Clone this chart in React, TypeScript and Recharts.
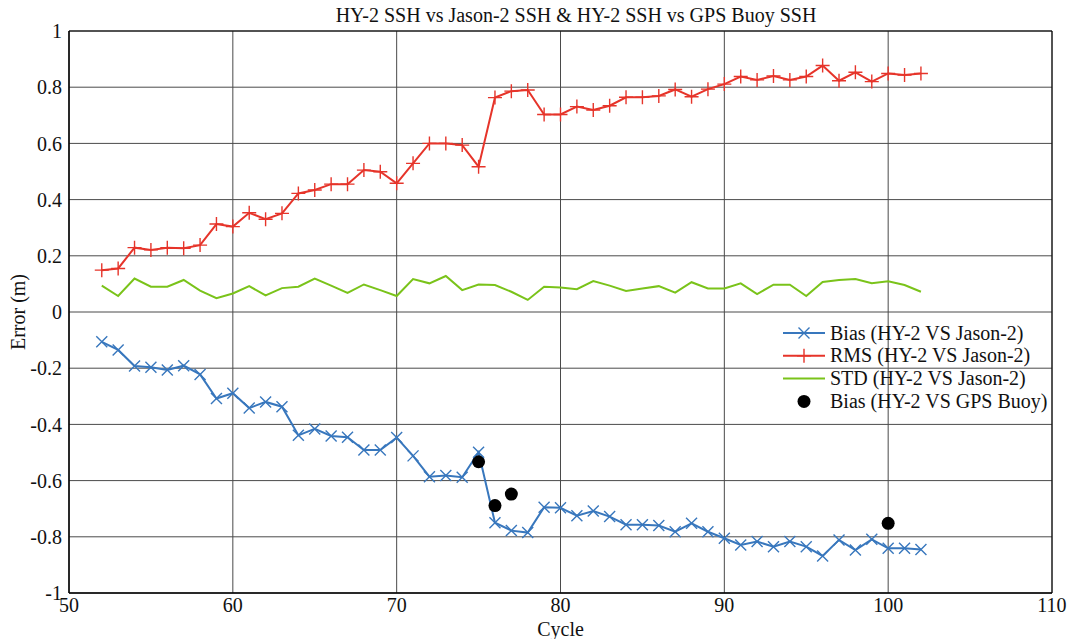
import React from 'react';
import {
  ComposedChart,
  Line,
  Scatter,
  XAxis,
  YAxis,
  CartesianGrid,
  Legend,
  ReferenceArea,
} from 'recharts';

const cycles = [
  52, 53, 54, 55, 56, 57, 58, 59, 60, 61, 62, 63, 64, 65, 66, 67, 68, 69, 70, 71,
  72, 73, 74, 75, 76, 77, 78, 79, 80, 81, 82, 83, 84, 85, 86, 87, 88, 89, 90, 91,
  92, 93, 94, 95, 96, 97, 98, 99, 100, 101, 102,
];

const biasJason = [
  -0.106, -0.135, -0.192, -0.197, -0.206, -0.191, -0.222, -0.308, -0.289, -0.342,
  -0.32, -0.337, -0.439, -0.416, -0.441, -0.446, -0.491, -0.491, -0.447, -0.512,
  -0.586, -0.582, -0.588, -0.499, -0.75, -0.778, -0.785, -0.695, -0.697, -0.725,
  -0.708, -0.728, -0.757, -0.757, -0.76, -0.782, -0.752, -0.782, -0.805, -0.829,
  -0.817, -0.835, -0.817, -0.835, -0.868, -0.811, -0.847, -0.809, -0.841, -0.841,
  -0.845,
];

const rmsJason = [
  0.149, 0.155, 0.229, 0.221, 0.229, 0.227, 0.238, 0.313, 0.304, 0.353, 0.33,
  0.351, 0.422, 0.434, 0.455, 0.455, 0.505, 0.499, 0.458, 0.529, 0.6, 0.6, 0.594,
  0.517, 0.763, 0.786, 0.79, 0.703, 0.703, 0.731, 0.719, 0.734, 0.764, 0.764,
  0.769, 0.792, 0.766, 0.793, 0.811, 0.838, 0.826, 0.84, 0.826, 0.838, 0.877,
  0.823, 0.853, 0.82, 0.849, 0.843, 0.849,
];

const stdJason = [
  0.094, 0.057, 0.119, 0.09, 0.09, 0.114, 0.076, 0.049, 0.066, 0.092, 0.059, 0.085,
  0.09, 0.119, 0.094, 0.068, 0.098, 0.078, 0.057, 0.117, 0.102, 0.128, 0.078,
  0.098, 0.096, 0.072, 0.043, 0.09, 0.087, 0.081, 0.11, 0.094, 0.075, 0.084,
  0.092, 0.069, 0.106, 0.084, 0.084, 0.102, 0.064, 0.097, 0.097, 0.057, 0.107,
  0.114, 0.117, 0.102, 0.109, 0.096, 0.072,
];

const buoyCycles = [75, 76, 77, 100];
const buoyBias = [-0.533, -0.689, -0.648, -0.752];

const xTicks = [50, 60, 70, 80, 90, 100, 110];
const yTicks = [-1, -0.8, -0.6, -0.4, -0.2, 0, 0.2, 0.4, 0.6, 0.8, 1];

const seriesNames = [
  'Bias (HY-2 VS Jason-2)',
  'RMS (HY-2 VS Jason-2)',
  'STD (HY-2 VS Jason-2)',
  'Bias (HY-2 VS GPS Buoy)',
];

const BLUE = '#3877bd';
const RED = '#e6342a';
const GREEN = '#7ac31a';
const FONT = '"Liberation Serif", "Times New Roman", serif';

const data = cycles.map((c, i) => ({
  cycle: c,
  bias: biasJason[i],
  rms: rmsJason[i],
  std: stdJason[i],
}));

const buoyData = buoyCycles.map((c, i) => ({ cycle: c, buoy: buoyBias[i] }));

const XDot = (props: any) => {
  const { cx, cy, index } = props;
  if (cx == null || cy == null) return <g key={`x${index}`} />;
  const s = 5.5;
  return (
    <path
      key={`x${index}`}
      d={`M${cx - s},${cy - s}L${cx + s},${cy + s}M${cx - s},${cy + s}L${cx + s},${cy - s}`}
      stroke={BLUE}
      strokeWidth={1.4}
      fill="none"
    />
  );
};

const PlusDot = (props: any) => {
  const { cx, cy, index } = props;
  if (cx == null || cy == null) return <g key={`p${index}`} />;
  const s = 7;
  return (
    <path
      key={`p${index}`}
      d={`M${cx - s},${cy}L${cx + s},${cy}M${cx},${cy - s}L${cx},${cy + s}`}
      stroke={RED}
      strokeWidth={1.4}
      fill="none"
    />
  );
};

const BuoyShape = (props: any) => {
  const { cx, cy } = props;
  return <circle cx={cx} cy={cy} r={6.5} fill="#000" />;
};

const LegendContent = () => {
  const rowH = 22.8;
  const y0 = 12;
  return (
    <svg width={285} height={96} style={{ overflow: 'visible', display: 'block' }}>
      {seriesNames.map((name, i) => {
        const cy = y0 + i * rowH;
        let sym: React.ReactNode = null;
        if (i === 0) {
          sym = (
            <g>
              <line x1={3} x2={45} y1={cy} y2={cy} stroke={BLUE} strokeWidth={2} />
              <path
                d={`M${24 - 5.5},${cy - 5.5}L${24 + 5.5},${cy + 5.5}M${24 - 5.5},${cy + 5.5}L${24 + 5.5},${cy - 5.5}`}
                stroke={BLUE}
                strokeWidth={1.4}
              />
            </g>
          );
        } else if (i === 1) {
          sym = (
            <g>
              <line x1={3} x2={45} y1={cy} y2={cy} stroke={RED} strokeWidth={2} />
              <path
                d={`M${24 - 7},${cy}L${24 + 7},${cy}M24,${cy - 7}L24,${cy + 7}`}
                stroke={RED}
                strokeWidth={1.4}
              />
            </g>
          );
        } else if (i === 2) {
          sym = <line x1={3} x2={45} y1={cy} y2={cy} stroke={GREEN} strokeWidth={2} />;
        } else {
          sym = <circle cx={24} cy={cy} r={6.5} fill="#000" />;
        }
        return (
          <g key={name}>
            {sym}
            <text x={50} y={cy + 6.5} fontFamily={FONT} fontSize={20} fill="#111">
              {name}
            </text>
          </g>
        );
      })}
    </svg>
  );
};

export default function App() {
  return (
    <div
      style={{
        position: 'absolute',
        left: 0,
        top: 0,
        width: 1068,
        height: 639,
        background: '#fff',
        fontFamily: FONT,
      }}
    >
      <div
        style={{
          position: 'absolute',
          left: 276,
          width: 600,
          top: 5,
          textAlign: 'center',
          fontSize: 20,
          lineHeight: '20px',
          color: '#111',
          fontFamily: FONT,
          whiteSpace: 'nowrap',
        }}
      >
        HY-2 SSH vs Jason-2 SSH &amp; HY-2 SSH vs GPS Buoy SSH
      </div>
      <div
        style={{
          position: 'absolute',
          left: 18,
          top: 312,
          transform: 'translate(-50%, -50%) rotate(-90deg)',
          fontSize: 20,
          lineHeight: '20px',
          color: '#111',
          fontFamily: FONT,
          whiteSpace: 'nowrap',
        }}
      >
        Error (m)
      </div>
      <ComposedChart
        width={1068}
        height={639}
        data={data}
        margin={{ top: 31, right: 16, bottom: 0, left: 0 }}
      >
        <CartesianGrid stroke="#4a4a4a" strokeWidth={1} />
        <XAxis
          dataKey="cycle"
          type="number"
          domain={[50, 110]}
          ticks={xTicks}
          interval={0}
          height={46}
          tickSize={0}
          tickMargin={5}
          axisLine={{ stroke: '#000' }}
          tick={{ fill: '#111', fontSize: 20, fontFamily: FONT }}
          label={{
            value: 'Cycle',
            position: 'insideBottom',
            offset: 3,
            fill: '#111',
            fontSize: 20,
            fontFamily: FONT,
          }}
        />
        <YAxis
          type="number"
          domain={[-1, 1]}
          ticks={yTicks}
          interval={0}
          width={69}
          tickSize={0}
          tickMargin={7}
          axisLine={{ stroke: '#000' }}
          tickFormatter={(v: number) => String(v)}
          tick={{ fill: '#111', fontSize: 20, fontFamily: FONT }}
        />
        <ReferenceArea
          x1={50}
          x2={110}
          y1={-1}
          y2={1}
          fill="none"
          fillOpacity={0}
          stroke="#000"
          strokeWidth={1}
          ifOverflow="visible"
        />
        <Line
          dataKey="std"
          name={seriesNames[2]}
          stroke={GREEN}
          strokeWidth={2}
          dot={false}
          activeDot={false}
          isAnimationActive={false}
          type="linear"
        />
        <Line
          dataKey="rms"
          name={seriesNames[1]}
          stroke={RED}
          strokeWidth={2}
          dot={PlusDot}
          activeDot={false}
          isAnimationActive={false}
          type="linear"
        />
        <Line
          dataKey="bias"
          name={seriesNames[0]}
          stroke={BLUE}
          strokeWidth={2}
          dot={XDot}
          activeDot={false}
          isAnimationActive={false}
          type="linear"
        />
        <Scatter
          data={buoyData}
          dataKey="buoy"
          name={seriesNames[3]}
          shape={BuoyShape}
          isAnimationActive={false}
        />
        <Legend
          layout="vertical"
          align="center"
          verticalAlign="middle"
          content={LegendContent}
          wrapperStyle={{ left: 780, top: 321, width: 285, height: 96 }}
        />
      </ComposedChart>
    </div>
  );
}
